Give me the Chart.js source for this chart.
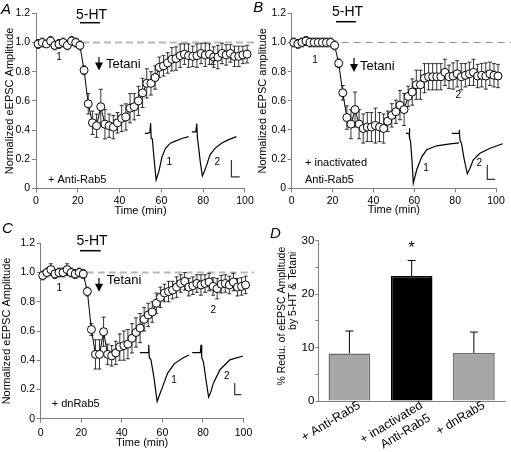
<!DOCTYPE html>
<html>
<head>
<meta charset="utf-8">
<title>Rab5 and 5-HT/tetani depression of eEPSC</title>
<script src="https://cdn.jsdelivr.net/npm/chart.js@4.4.1/dist/chart.umd.min.js"></script>
<style>
  body { margin: 0; background: #fff; }
  #fig { position: relative; width: 511px; height: 452px; overflow: hidden; }
  #fig canvas { position: absolute; }
</style>
</head>
<body>
<div id="fig">
  <canvas id="panelA" width="256" height="220" style="left:0px;top:0px"></canvas>
  <canvas id="panelB" width="261" height="220" style="left:250px;top:0px"></canvas>
  <canvas id="panelC" width="256" height="232" style="left:0px;top:220px"></canvas>
  <canvas id="panelD" width="261" height="232" style="left:250px;top:220px"></canvas>
</div>
<script>
// sample times (min)
const timeMin = [1, 3, 5, 7, 9, 11, 13, 15, 17, 19, 21, 23, 25, 27, 29, 31, 33, 35, 37, 39,
  41, 43, 45, 47, 49, 51, 53, 55, 57, 59, 61, 63, 65, 67, 69, 71, 73, 75, 77, 79,
  81, 83, 85, 87, 89, 91, 93, 95, 97, 99, 101];

// A: + Anti-Rab5
const normA = [0.99, 1.00, 0.99, 1.01, 0.98, 0.99, 1.00, 0.98, 1.01, 1.00, 0.98,
  0.81, 0.58, 0.45, 0.43, 0.56, 0.44, 0.43, 0.42, 0.45, 0.48, 0.49, 0.55, 0.56, 0.60,
  0.655, 0.72, 0.72, 0.76, 0.83, 0.84, 0.86, 0.885, 0.89, 0.91, 0.92, 0.91, 0.905, 0.91, 0.925,
  0.915, 0.92, 0.90, 0.90, 0.925, 0.915, 0.925, 0.905, 0.905, 0.915, 0.92];
const semA = [0.03, 0.03, 0.02, 0.03, 0.03, 0.03, 0.03, 0.03, 0.03, 0.03, 0.03,
  0.03, 0.07, 0.08, 0.08, 0.12, 0.10, 0.08, 0.08, 0.07, 0.09, 0.09, 0.10, 0.09, 0.10,
  0.10, 0.10, 0.08, 0.08, 0.07, 0.07, 0.07, 0.08, 0.08, 0.08, 0.07, 0.08, 0.07, 0.08, 0.07,
  0.08, 0.07, 0.07, 0.08, 0.07, 0.07, 0.06, 0.07, 0.07, 0.06, 0.06];

// B: + inactivated Anti-Rab5
const normB = [1.00, 0.99, 1.00, 1.01, 1.00, 1.00, 1.00, 1.00, 1.00, 1.00, 0.98,
  0.857, 0.655, 0.485, 0.44, 0.54, 0.44, 0.41, 0.42, 0.42, 0.43, 0.42, 0.41, 0.46, 0.50,
  0.525, 0.57, 0.54, 0.63, 0.66, 0.71, 0.71, 0.755, 0.765, 0.765, 0.765, 0.765, 0.795, 0.765, 0.77,
  0.785, 0.765, 0.775, 0.785, 0.795, 0.77, 0.775, 0.77, 0.785, 0.775, 0.77];
const semB = [0.03, 0.03, 0.03, 0.03, 0.03, 0.03, 0.03, 0.03, 0.03, 0.03, 0.03,
  0.03, 0.05, 0.08, 0.10, 0.12, 0.10, 0.10, 0.10, 0.10, 0.12, 0.10, 0.10, 0.07, 0.08,
  0.08, 0.10, 0.11, 0.07, 0.09, 0.10, 0.10, 0.10, 0.09, 0.09, 0.09, 0.09, 0.09, 0.08, 0.09,
  0.09, 0.09, 0.08, 0.08, 0.09, 0.08, 0.08, 0.09, 0.08, 0.08, 0.08];

// C: + dnRab5
const normC = [0.98, 1.00, 1.02, 0.99, 1.00, 1.00, 1.02, 1.00, 0.99, 1.00, 0.99,
  0.87, 0.61, 0.44, 0.44, 0.595, 0.44, 0.43, 0.45, 0.49, 0.50, 0.51, 0.55, 0.59, 0.62,
  0.68, 0.71, 0.73, 0.79, 0.83, 0.86, 0.87, 0.88, 0.90, 0.925, 0.94, 0.90, 0.91, 0.925, 0.915,
  0.925, 0.935, 0.905, 0.89, 0.92, 0.925, 0.915, 0.935, 0.90, 0.905, 0.915];
const semC = [0.03, 0.03, 0.04, 0.03, 0.03, 0.03, 0.04, 0.03, 0.03, 0.03, 0.03,
  0.03, 0.04, 0.10, 0.10, 0.10, 0.07, 0.07, 0.08, 0.09, 0.10, 0.10, 0.10, 0.10, 0.10,
  0.08, 0.08, 0.07, 0.07, 0.07, 0.06, 0.07, 0.06, 0.07, 0.06, 0.06, 0.06, 0.06, 0.06, 0.07,
  0.06, 0.06, 0.06, 0.07, 0.06, 0.06, 0.06, 0.06, 0.06, 0.06, 0.06];

// example eEPSC traces [ms, fraction of trace-1 peak], scale bars
const traceA1 = [[0, 0], [3, 0], [5, 0.02], [5.7, 0.22], [6.3, -0.11], [7.5, -0.12], [9, -0.5], [11.3, -1],
  [14, -0.82], [17.3, -0.5], [20.7, -0.32], [25.7, -0.21], [30.7, -0.165], [37.3, -0.11], [44, -0.07]];
const traceA2 = [[47.3, 0.03], [51.3, 0.03], [52.3, 0.21], [53, -0.1], [54.5, -0.36], [56, -0.64], [58, -0.91],
  [60, -0.81], [62.3, -0.68], [65.7, -0.46], [70.7, -0.32], [77.3, -0.21], [84, -0.14], [92.3, -0.07]];
const scaleBarA = [[87.3, -0.57], [87.3, -0.93], [95.7, -0.93]];

const traceB1 = [[0, 0], [3, 0], [3.3, 0.1], [3.8, -0.1], [4.5, -0.15], [6, -0.55], [7.3, -1], [10.7, -0.73],
  [15.7, -0.47], [20.7, -0.33], [30.7, -0.25], [44, -0.21], [53.3, -0.19]];
const traceB2 = [[45.7, 0], [53, 0], [53.3, 0.07], [54, -0.13], [55.5, -0.2], [58, -0.5], [61.3, -0.81],
  [64, -0.7], [67.3, -0.53], [74, -0.4], [84, -0.3], [96.7, -0.21]];
const scaleBarB = [[81.3, -0.63], [81.3, -0.92], [89, -0.92]];

const traceC1 = [[0, 0], [8.3, 0], [9, 0.16], [9.6, -0.1], [11.3, -0.15], [14.3, -0.5], [17.6, -1],
  [20.3, -0.85], [23.3, -0.69], [28.3, -0.42], [35, -0.23], [43.3, -0.115], [50, -0.05]];
const traceC2 = [[53.3, 0], [61.6, 0], [62.3, 0.16], [63, -0.1], [64.8, -0.2], [67.3, -0.55], [70, -0.91],
  [72.3, -0.8], [75, -0.62], [81.6, -0.35], [91.6, -0.15], [105, -0.07]];
const scaleBarC = [[96.6, -0.62], [96.6, -0.86], [103.3, -0.86]];

// D: summary
const groupLabels = [['+ Anti-Rab5'], ['+ inactivated', 'Anti-Rab5'], ['+ dnRab5']];
const reduction = [8.9, 23.4, 9.0];
const reductionSem = [4.2, 2.9, 3.9];

const REG = "'Liberation Sans', Arial, sans-serif";
const NARROW = "'Liberation Sans Narrow', 'Arial Narrow', 'Liberation Sans', Arial, sans-serif";
const AXIS_GREY = '#808080';

Chart.defaults.font.family = REG;
Chart.defaults.color = '#000';
Chart.defaults.animation = false;
Chart.defaults.plugins.legend.display = false;
Chart.defaults.plugins.tooltip.enabled = false;

function traceSet(points, color, width) {
    return {
        data: points.map(p => ({ x: p[0], y: p[1] })),
        xAxisID: 'xi',
        yAxisID: 'yi',
        borderColor: color,
        borderWidth: width,
        pointRadius: 0,
        tension: 0,
        clip: false
    };
}

function drawNotes(ctx, ann) {
    ctx.save();
    ctx.fillStyle = '#000';
    ctx.strokeStyle = '#000';
    ctx.textBaseline = 'middle';

    ctx.font = 'italic 15px ' + REG;
    ctx.textAlign = 'left';
    ctx.fillText(ann.letter[2], ann.letter[0], ann.letter[1]);

    ctx.font = '14px ' + REG;
    ctx.textAlign = 'center';
    ctx.fillText('5-HT', ann.drug[0], ann.drug[1]);
    ctx.lineWidth = 1.5;
    ctx.beginPath();
    ctx.moveTo(ann.drugBar[0], ann.drugBar[2]);
    ctx.lineTo(ann.drugBar[1], ann.drugBar[2]);
    ctx.stroke();

    // tetani arrow
    const [ax, ay1, ay2] = ann.arrow;
    ctx.lineWidth = 1.2;
    ctx.beginPath();
    ctx.moveTo(ax, ay1);
    ctx.lineTo(ax, ay2 - 6);
    ctx.stroke();
    ctx.beginPath();
    ctx.moveTo(ax - 4, ay2 - 8);
    ctx.lineTo(ax + 4, ay2 - 8);
    ctx.lineTo(ax, ay2);
    ctx.closePath();
    ctx.fill();
    ctx.font = '13px ' + REG;
    ctx.textAlign = 'left';
    ctx.fillText('Tetani', ann.tetani[0], ann.tetani[1]);

    ctx.font = '10px ' + REG;
    ctx.textAlign = 'center';
    ann.marks.forEach(m => ctx.fillText(m[0], m[1], m[2]));

    ctx.font = '11px ' + NARROW;
    ctx.textAlign = 'left';
    ann.cond.forEach(c => ctx.fillText(c[0], c[1], c[2]));
    ctx.restore();
}

function timeCourse(id, vals, sem, t1, t2, bar, lay, ann) {
    const notes = {
        id: 'notes',
        beforeDatasetsDraw(chart) {
            const { ctx, chartArea, scales: { x, y } } = chart;
            ctx.save();
            // control level
            ctx.strokeStyle = lay.dash.color;
            ctx.lineWidth = lay.dash.width;
            ctx.setLineDash(lay.dash.pattern);
            const y1 = y.getPixelForValue(1);
            ctx.beginPath();
            ctx.moveTo(chartArea.left + 2, y1);
            ctx.lineTo(lay.dash.end, y1);
            ctx.stroke();
            ctx.setLineDash([]);
            // SEM bars
            ctx.strokeStyle = '#000';
            ctx.lineWidth = 0.8;
            timeMin.forEach((t, i) => {
                const px = x.getPixelForValue(t);
                const hi = y.getPixelForValue(vals[i] + sem[i]);
                const lo = y.getPixelForValue(vals[i] - sem[i]);
                ctx.beginPath();
                ctx.moveTo(px, hi); ctx.lineTo(px, lo);
                ctx.moveTo(px - 2, hi); ctx.lineTo(px + 2, hi);
                ctx.moveTo(px - 2, lo); ctx.lineTo(px + 2, lo);
                ctx.stroke();
            });
            ctx.restore();
        },
        afterDraw(chart) {
            drawNotes(chart.ctx, ann);
        }
    };

    new Chart(document.getElementById(id), {
        type: 'line',
        data: {
            datasets: [
                {
                    data: timeMin.map((t, i) => ({ x: t, y: vals[i] })),
                    xAxisID: 'x',
                    yAxisID: 'y',
                    borderColor: '#000',
                    borderWidth: 1,
                    tension: 0,
                    pointRadius: 4,
                    pointBackgroundColor: '#fff',
                    pointBorderColor: '#000',
                    pointBorderWidth: 1,
                    clip: false
                },
                traceSet(t1, '#000', 1.2),
                traceSet(t2, '#000', 1.2),
                traceSet(bar, '#333', 1.2)
            ]
        },
        options: {
            responsive: false,
            layout: { padding: { left: 0, right: lay.padRight, top: lay.padTop, bottom: 0 } },
            scales: {
                x: {
                    type: 'linear',
                    position: 'bottom',
                    min: 0,
                    max: 100,
                    afterFit(s) { s.height = lay.xHeight; },
                    ticks: { stepSize: 20, maxRotation: 0, padding: lay.xTickPad, font: { size: 10.5 } },
                    grid: { drawOnChartArea: false, tickLength: 4, color: AXIS_GREY },
                    border: { color: AXIS_GREY },
                    title: { display: true, text: 'Time (min)', font: { size: 11, family: NARROW }, padding: { top: 0, bottom: lay.xTitlePad } }
                },
                y: {
                    type: 'linear',
                    position: 'left',
                    min: 0,
                    max: 1.2,
                    afterFit(s) { s.width = lay.yWidth; },
                    ticks: {
                        stepSize: 0.2,
                        padding: lay.yTickPad,
                        font: { size: 10.5 },
                        callback: v => (v === 0 ? '0' : v.toFixed(1))
                    },
                    grid: { drawOnChartArea: false, tickLength: 4, color: AXIS_GREY },
                    border: { color: AXIS_GREY },
                    title: { display: true, text: lay.yTitle, font: { size: 11 }, padding: { top: lay.yTitlePad, bottom: 0 } }
                },
                xi: { type: 'linear', display: false, min: lay.inset[0], max: lay.inset[1] },
                yi: { type: 'linear', display: false, min: lay.inset[2], max: lay.inset[3] }
            }
        },
        plugins: [notes]
    });
}

timeCourse('panelA', normA, semA, traceA1, traceA2, scaleBarA, {
    padRight: 9, padTop: 13.3, xHeight: 31.5, yWidth: 36,
    xTickPad: 2.25, xTitlePad: 2.7, yTickPad: 2, yTitlePad: 3.4,
    yTitle: 'Normalized eEPSC Amplitude',
    dash: { color: '#b8b8b8', width: 2, pattern: [7, 4], end: 254 },
    inset: [-110, 101, -1.18, 2.57]
}, {
    letter: [1, 9.5, 'A'], drug: [91.5, 14.7], drugBar: [80, 100, 22.7],
    arrow: [99, 57, 70.5], tetani: [106, 64],
    marks: [['1', 59, 57], ['2', 213, 62], ['1', 169.3, 162.7], ['2', 217.3, 162.7]],
    cond: [['+ Anti-Rab5', 48, 180]]
});

timeCourse('panelB', normB, semB, traceB1, traceB2, scaleBarB, {
    padRight: 15, padTop: 13.3, xHeight: 31.7, yWidth: 41.7,
    xTickPad: 2.5, xTitlePad: 3, yTickPad: 1.7, yTitlePad: 6.7,
    yTitle: 'Normalized eEPSC amplitude',
    dash: { color: '#8c8c8c', width: 1, pattern: [7, 5], end: 261 },
    inset: [-114.3, 90, -1.1, 2.4]
}, {
    letter: [3.3, 8.3, 'B'], drug: [97.5, 11.7], drugBar: [86, 106, 21.7],
    arrow: [104, 58, 72], tetani: [110, 66],
    marks: [['1', 65, 60], ['2', 208.3, 95], ['1', 176, 168.3], ['2', 229.3, 163.3]],
    cond: [['+ inactivated', 55, 163.3], ['Anti-Rab5', 55, 180]]
});

timeCourse('panelC', normC, semC, traceC1, traceC2, scaleBarC, {
    padRight: 8.7, padTop: 23.3, xHeight: 33.3, yWidth: 40.7,
    xTickPad: 3.7, xTitlePad: 2.7, yTickPad: 1.7, yTitlePad: 0.7,
    yTitle: 'Normalized eEPSC Amplitude',
    dash: { color: '#b8b8b8', width: 2, pattern: [7, 4], end: 254 },
    inset: [-101, 105.6, -1.35, 2.23]
}, {
    letter: [2, 9, 'C'], drug: [92, 20.7], drugBar: [80, 100.7, 30.7],
    arrow: [99, 58, 71.7], tetani: [106.7, 60.7],
    marks: [['1', 59.3, 68.3], ['2', 213.3, 90], ['1', 174, 160], ['2', 226.7, 156.7]],
    cond: [['+ dnRab5', 51.7, 184.3]]
});

// D: summary bar chart
const barNotes = {
    id: 'barNotes',
    afterDatasetsDraw(chart) {
        const { ctx, scales: { y } } = chart;
        const bars = chart.getDatasetMeta(0).data;
        ctx.save();
        ctx.strokeStyle = '#000';
        ctx.lineWidth = 1;
        bars.forEach((b, i) => {
            const top = y.getPixelForValue(reduction[i]);
            const hi = y.getPixelForValue(reduction[i] + reductionSem[i]);
            ctx.beginPath();
            ctx.moveTo(b.x, top);
            ctx.lineTo(b.x, hi);
            ctx.moveTo(b.x - 4, hi);
            ctx.lineTo(b.x + 4, hi);
            ctx.stroke();
        });
        ctx.fillStyle = '#000';
        ctx.textBaseline = 'middle';
        ctx.textAlign = 'left';
        ctx.font = 'italic 15px ' + REG;
        ctx.fillText('D', 20, 13.5);
        ctx.textAlign = 'center';
        ctx.font = '16px ' + REG;
        ctx.fillText('*', bars[1].x, 28.3);
        // two-line y title, both lines ending near the top
        ctx.font = '10.5px ' + REG;
        ctx.textAlign = 'right';
        ctx.save();
        ctx.translate(31.7, 26.7);
        ctx.rotate(-Math.PI / 2);
        ctx.fillText('% Redu. of eEPSC Amplitude', 0, 0);
        ctx.restore();
        ctx.save();
        ctx.translate(43.3, 31.7);
        ctx.rotate(-Math.PI / 2);
        ctx.fillText('by 5-HT & Tetani', 0, 0);
        ctx.restore();
        ctx.restore();
    }
};

new Chart(document.getElementById('panelD'), {
    type: 'bar',
    data: {
        labels: groupLabels,
        datasets: [{
            data: reduction,
            backgroundColor: ['#a6a6a6', '#000000', '#a6a6a6'],
            borderColor: ['#6b6b6b', '#000000', '#6b6b6b'],
            borderWidth: 1.5,
            categoryPercentage: 1,
            barPercentage: 0.67
        }]
    },
    options: {
        responsive: false,
        layout: { padding: { left: 20, right: 6, top: 20.7, bottom: 0 } },
        scales: {
            x: {
                afterFit(s) { s.height = 51; },
                ticks: { autoSkip: false, minRotation: 31, maxRotation: 31, labelOffset: 10, padding: -3, font: { size: 12.5 } },
                grid: { display: false, drawTicks: false },
                border: { color: AXIS_GREY }
            },
            y: {
                min: 0,
                max: 30,
                afterFit(s) { s.width = 48.3; },
                ticks: {
                    stepSize: 5,
                    padding: 1,
                    font: { size: 11.5 },
                    callback: v => (v % 10 === 0 ? String(v) : '')
                },
                grid: { drawOnChartArea: false, tickLength: 3, color: AXIS_GREY },
                border: { color: AXIS_GREY }
            }
        }
    },
    plugins: [barNotes]
});
</script>
</body>
</html>
